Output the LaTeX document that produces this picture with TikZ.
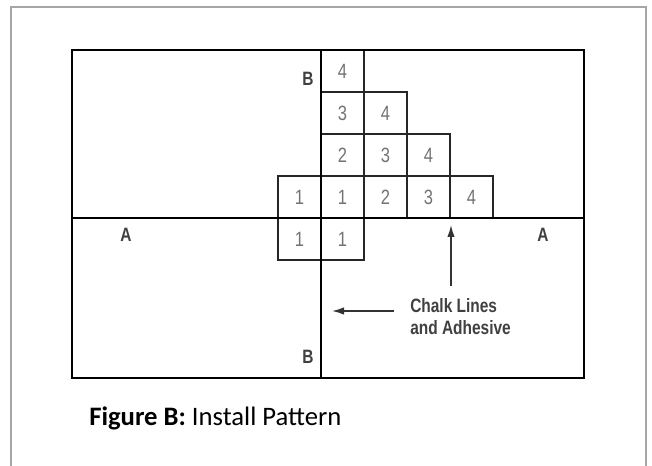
\documentclass[tikz,border=0pt]{standalone}
\usepackage{fontspec}
\setmainfont{Carlito}
\newfontfamily\plotfont[FakeStretch=0.8]{Liberation Sans}
\usetikzlibrary{arrows.meta}

\begin{document}
\begin{tikzpicture}[x=0.75pt, y=-0.75pt,
    tile/.style={draw=black!85, line width=1.3pt, minimum width=32.25pt, minimum height=31.5pt, inner sep=0pt, text=black!55, font=\plotfont\fontsize{15.5}{15.5}\selectfont},
    linelabel/.style={inner sep=0pt, text=black!75, font=\plotfont\bfseries\fontsize{14.5}{14.5}\selectfont},
    chalkline/.style={black, line width=1.6pt},
    pointer/.style={-{Latex[length=9pt,width=5.5pt]}, black!80, line width=1pt}]
    \useasboundingbox[fill=white] (0,0) rectangle (652,466);
    \draw[black!35, line width=1.5pt] (11,466) -- (11,7) -- (646,7) -- (646,466);

    \node[tile] (t41) at (342.5,71) {4};
    \node[tile] (t31) at (342.5,113) {3};
    \node[tile] (t32) at (385.5,113) {4};
    \node[tile] (t21) at (342.5,155) {2};
    \node[tile] (t22) at (385.5,155) {3};
    \node[tile] (t23) at (428.5,155) {4};
    \node[tile] (t10) at (299.5,197) {1};
    \node[tile] (t11) at (342.5,197) {1};
    \node[tile] (t12) at (385.5,197) {2};
    \node[tile] (t13) at (428.5,197) {3};
    \node[tile] (t14) at (471.5,197) {4};
    \node[tile] (b10) at (299.5,239) {1};
    \node[tile] (b11) at (342.5,239) {1};

    \coordinate (btop) at (321,50);
    \coordinate (bbot) at (321,378);
    \coordinate (aleft) at (72,218);
    \coordinate (aright) at (584,218);
    \draw[chalkline, line width=2pt] (72,50) rectangle (584,378);
    \draw[chalkline] (btop) -- (bbot);
    \draw[chalkline] (aleft) -- (aright);

    \node[linelabel] (btoplbl) at (308,79) {B};
    \node[linelabel] (bbotlbl) at (308,357) {B};
    \node[linelabel] (aleftlbl) at (126,235) {A};
    \node[linelabel] (arightlbl) at (543,235) {A};

    \node[linelabel, anchor=north west, align=left, font=\plotfont\bfseries\fontsize{14.5}{16.5}\selectfont] (chalk) at (410,298) {Chalk Lines\\and Adhesive};
    \coordinate (uptail) at (451,286);
    \coordinate (uptip) at (451,225);
    \coordinate (lefttail) at (394,311);
    \coordinate (leftip) at (332,311);
    \draw[pointer] (uptail) -- (uptip);
    \draw[pointer] (lefttail) -- (leftip);

    \node[anchor=base west, inner sep=0pt, font=\fontsize{20}{24}\selectfont] (caption) at (89,425) {\textbf{Figure B:} Install Pattern};
\end{tikzpicture}
\end{document}
